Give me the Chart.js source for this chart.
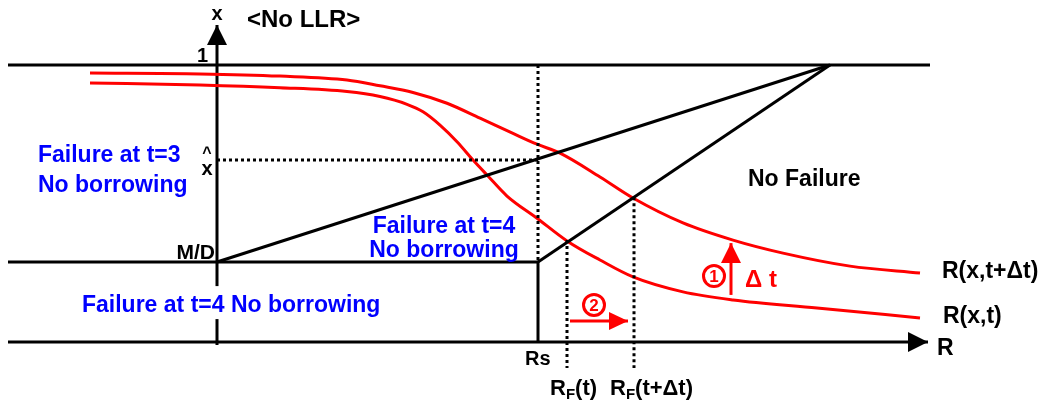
<!doctype html>
<html lang="en">
<head>
    <meta charset="utf-8">
    <title>No LLR</title>
    <style>
        body { margin: 0; background: #fff; }
        .wrap { width: 1051px; height: 405px; position: relative; }
    </style>
</head>
<body>
    <div class="wrap">
        <canvas id="chart"></canvas>
    </div>
    <script src="https://cdn.jsdelivr.net/npm/chart.js"></script>
    <script>
        // key levels on both axes (R along the bottom, x up the side)
        const xTop = 1;
        const MD = 0.289;
        const xHat = 0.657;
        const Rs = 3.21;
        const RF_t = 3.50;
        const RF_next = 4.17;
        const Rpeak = 6.13;
        const Rleft = -2.09;
        const Rright = 7.13;

        // R(x,t+dt) curve
        const nextR = [-1.27, -0.17, 0.63, 1.30, 1.63, 1.96, 2.30, 2.63, 2.96, 3.20, 3.43, 3.83, 4.16, 4.66, 5.16, 5.66, 6.33, 7.03];
        const nextX = [0.971, 0.968, 0.960, 0.946, 0.925, 0.901, 0.862, 0.808, 0.753, 0.714, 0.682, 0.596, 0.520, 0.430, 0.368, 0.321, 0.274, 0.249];
        // R(x,t) curve
        const nowR = [-1.27, -0.17, 0.63, 1.30, 1.63, 1.90, 2.06, 2.23, 2.40, 2.56, 2.70, 2.90, 3.20, 3.50, 3.83, 4.16, 4.66, 5.16, 6.00, 7.03];
        const nowX = [0.935, 0.928, 0.918, 0.904, 0.886, 0.858, 0.831, 0.783, 0.723, 0.657, 0.603, 0.527, 0.447, 0.365, 0.296, 0.235, 0.181, 0.152, 0.123, 0.087];

        const pts = (xs, ys) => xs.map((v, i) => ({ x: v, y: ys[i] }));
        const seg = (x1, y1, x2, y2) => [{ x: x1, y: y1 }, { x: x2, y: y2 }];

        const black = '#000';
        const red = '#ff0000';
        const blue = '#0000ff';

        function solid(data, color, extra) {
            return Object.assign({ data: data, borderColor: color, borderWidth: 3, showLine: true, pointRadius: 0, fill: false }, extra || {});
        }
        function dotted(data) {
            return solid(data, black, { borderDash: [3, 3], borderWidth: 3 });
        }

        const datasets = [
            solid(seg(Rleft, xTop, Rright, xTop), black),
            solid(seg(Rleft, MD, Rs, MD), black),
            solid(seg(Rs, MD, Rs, 0), black),
            solid(seg(Rs, MD, Rpeak, xTop), black),
            solid(seg(0, MD, Rpeak, xTop), black),
            dotted(seg(Rs, xTop, Rs, MD)),
            dotted(seg(0, xHat, Rs, xHat)),
            dotted(seg(RF_t, 0.368, RF_t, -0.094)),
            dotted(seg(RF_next, 0.523, RF_next, -0.094)),
            solid(pts(nextR, nextX), red, { cubicInterpolationMode: 'monotone' }),
            solid(pts(nowR, nowX), red, { cubicInterpolationMode: 'monotone' }),
            // axes with arrow heads
            solid(seg(Rleft, 0, 7.11, 0), black, { arrow: [20, 10] }),
            solid(seg(0, -0.011, 0, 1.144), black, { arrow: [20, 10] }),
            // shift arrows
            solid(seg(5.14, 0.170, 5.14, 0.357), red, { arrow: [20, 10] }),
            solid(seg(3.53, 0.076, 4.11, 0.076), red, { arrow: [19, 9] })
        ];

        const F = '"Liberation Sans", Arial, sans-serif';
        const labels = [
            { t: 'x', x: 0, y: 1.162, align: 'center', size: 20 },
            { t: '<No LLR>', x: 0.30, y: 1.137, size: 24 },
            { t: '1', x: -0.09, y: 1.011, align: 'right', size: 20 },
            { t: 'Failure at t=3', x: -1.79, y: 0.650, color: blue },
            { t: 'No borrowing', x: -1.79, y: 0.5415, color: blue },
            { t: '^', x: -0.10, y: 0.664, align: 'center', size: 16 },
            { t: 'x', x: -0.10, y: 0.603, align: 'center', size: 20 },
            { t: 'M/D', x: -0.02, y: 0.300, align: 'right', size: 21 },
            { t: 'Failure at t=4', x: 2.27, y: 0.394, align: 'center', color: blue },
            { t: 'No borrowing', x: 2.27, y: 0.307, align: 'center', color: blue },
            { t: 'Failure at t=4 No borrowing', x: -1.35, y: 0.108, color: blue, bg: true },
            { t: 'No Failure', x: 5.31, y: 0.563 },
            { t: 'R(x,t+Δt)', x: 7.25, y: 0.231 },
            { t: 'R(x,t)', x: 7.26, y: 0.0686 },
            { t: 'R', x: 7.20, y: -0.047 },
            { t: 'Rs', x: 3.08, y: -0.083, size: 20 },
            { parts: [['R', 0], ['F', 1], ['(t)', 0]], x: 3.33, y: -0.191, size: 22 },
            { parts: [['R', 0], ['F', 1], ['(t+Δt)', 0]], x: 3.93, y: -0.191, size: 22 },
            { circle: '1', x: 4.97, y: 0.238, color: red },
            { circle: '2', x: 3.77, y: 0.134, color: red },
            { t: 'Δ t', x: 5.28, y: 0.199, color: red, size: 24 }
        ];

        const arrowPlugin = {
            id: 'arrows',
            afterDatasetsDraw(chart) {
                const ctx = chart.ctx;
                const sx = chart.scales.x, sy = chart.scales.y;
                chart.data.datasets.forEach(ds => {
                    if (!ds.arrow) return;
                    const n = ds.data.length;
                    const a = ds.data[n - 2], b = ds.data[n - 1];
                    const x1 = sx.getPixelForValue(a.x), y1 = sy.getPixelForValue(a.y);
                    const x2 = sx.getPixelForValue(b.x), y2 = sy.getPixelForValue(b.y);
                    const ang = Math.atan2(y2 - y1, x2 - x1);
                    const len = ds.arrow[0], hw = ds.arrow[1];
                    ctx.save();
                    ctx.translate(x2, y2);
                    ctx.rotate(ang);
                    ctx.fillStyle = ds.borderColor;
                    ctx.beginPath();
                    ctx.moveTo(0, 0);
                    ctx.lineTo(-len, -hw);
                    ctx.lineTo(-len, hw);
                    ctx.closePath();
                    ctx.fill();
                    ctx.restore();
                });
            }
        };

        const labelPlugin = {
            id: 'labels',
            afterDatasetsDraw(chart) {
                const ctx = chart.ctx;
                const sx = chart.scales.x, sy = chart.scales.y;
                ctx.save();
                labels.forEach(l => {
                    const px = sx.getPixelForValue(l.x), py = sy.getPixelForValue(l.y);
                    const size = l.size || 23;
                    const color = l.color || black;
                    ctx.fillStyle = color;
                    ctx.strokeStyle = color;
                    if (l.circle) {
                        ctx.lineWidth = 3;
                        ctx.beginPath();
                        ctx.arc(px, py, 10.5, 0, Math.PI * 2);
                        ctx.stroke();
                        ctx.font = 'bold 17px ' + F;
                        ctx.textAlign = 'center';
                        ctx.textBaseline = 'middle';
                        ctx.fillText(l.circle, px, py + 1);
                        return;
                    }
                    ctx.textBaseline = 'alphabetic';
                    if (l.parts) {
                        let cx = px;
                        ctx.textAlign = 'left';
                        l.parts.forEach(p => {
                            ctx.font = 'bold ' + (p[1] ? Math.round(size * 0.7) : size) + 'px ' + F;
                            ctx.fillText(p[0], cx, py + (p[1] ? 4 : 0));
                            cx += ctx.measureText(p[0]).width;
                        });
                        return;
                    }
                    ctx.font = 'bold ' + size + 'px ' + F;
                    ctx.textAlign = l.align || 'left';
                    if (l.bg) {
                        const w = ctx.measureText(l.t).width;
                        ctx.fillStyle = '#fff';
                        ctx.fillRect(px - 3, py - size - 3, w + 6, size + 10);
                        ctx.fillStyle = color;
                    }
                    ctx.fillText(l.t, px, py);
                });
                ctx.restore();
            }
        };

        new Chart(document.getElementById('chart'), {
            type: 'scatter',
            data: { datasets: datasets },
            options: {
                responsive: true,
                maintainAspectRatio: false,
                animation: false,
                layout: { padding: 0 },
                scales: {
                    x: { type: 'linear', min: -2.17, max: 8.34, display: false },
                    y: { type: 'linear', min: -0.2274, max: 1.2347, display: false }
                },
                plugins: {
                    legend: { display: false },
                    tooltip: { enabled: false }
                }
            },
            plugins: [arrowPlugin, labelPlugin]
        });
    </script>
</body>
</html>
